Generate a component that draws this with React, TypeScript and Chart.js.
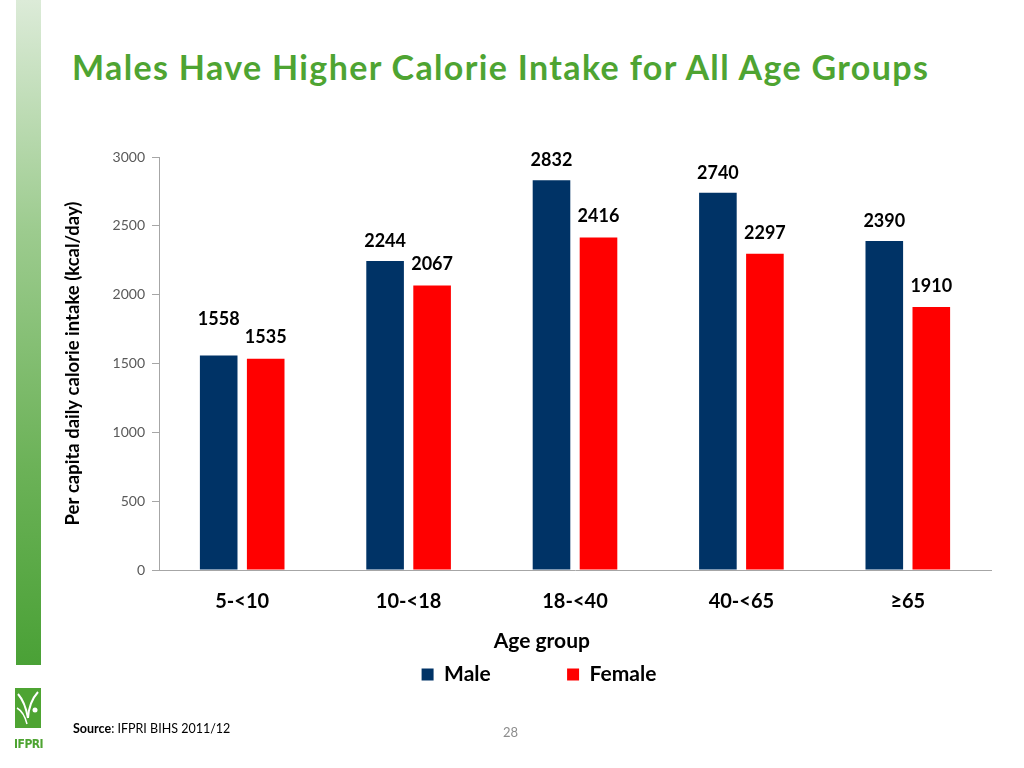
import React, { useEffect, useRef } from "react";
import { Chart, registerables } from "chart.js";

Chart.register(...registerables);

const categories = ["5-<10", "10-<18", "18-<40", "40-<65", "≥65"];
const maleValues = [1558, 2244, 2832, 2740, 2390];
const femaleValues = [1535, 2067, 2416, 2297, 1910];
const yTicks = [0, 500, 1000, 1500, 2000, 2500, 3000];

const FONT = "Lato, 'Open Sans', sans-serif";
const MALE = "#003366";
const FEMALE = "#ff0000";

// pad a label with trailing non-breaking spaces so it reaches a given drawn width
function padTo(text: string, font: string, width: number) {
  const c = document.createElement("canvas").getContext("2d");
  if (!c) return text;
  c.font = font;
  let t = text;
  while (c.measureText(t + "\u00a0").width <= width) t += "\u00a0";
  return t;
}

const valueLabels = {
  id: "valueLabels",
  afterDatasetsDraw(chart: any) {
    const ctx = chart.ctx;
    const m0 = chart.getDatasetMeta(0);
    const m1 = chart.getDatasetMeta(1);
    ctx.save();
    ctx.font = `bold 18px ${FONT}`;
    ctx.fillStyle = "#000";
    ctx.textAlign = "center";
    ctx.textBaseline = "middle";
    m0.data.forEach((bar: any, i: number) => {
      const fb = m1.data[i];
      let yM = bar.y - 20;
      const yF = fb.y - 21;
      if (Math.abs(yM - yF) < 18) yM = yF - 18;
      ctx.fillText(String(maleValues[i]), bar.x, yM);
      ctx.fillText(String(femaleValues[i]), fb.x, yF);
    });
    ctx.restore();
  },
};

export default function App() {
  const ref = useRef<HTMLCanvasElement | null>(null);

  useEffect(() => {
    if (!ref.current) return;
    const xTitle = padTo("Age group", `bold 21px ${FONT}`, 165);
    const chart = new Chart(ref.current, {
      type: "bar",
      data: {
        labels: categories,
        datasets: [
          { label: "Male", data: maleValues, backgroundColor: MALE, borderWidth: 0 },
          { label: "Female", data: femaleValues, backgroundColor: FEMALE, borderWidth: 0 },
        ],
      },
      options: {
        animation: false,
        responsive: false,
        datasets: { bar: { categoryPercentage: 0.565, barPercentage: 0.8 } },
        layout: { padding: { left: 87, right: 33, top: 157, bottom: 73 } },
        scales: {
          x: {
            grid: { display: false },
            border: { display: true, color: "#a6a6a6", width: 1 },
            ticks: { color: "#000", font: { family: FONT, size: 20, weight: "bold" }, padding: 12 },
            title: {
              display: true,
              text: xTitle,
              color: "#000",
              font: { family: FONT, size: 21, weight: "bold" },
              padding: { top: 10, bottom: 0 },
            },
            afterFit(scale: any) {
              scale.height = 84;
            },
          },
          y: {
            min: 0,
            max: 3000,
            afterBuildTicks(scale: any) {
              scale.ticks = yTicks.map((v) => ({ value: v }));
            },
            grid: { display: true, drawOnChartArea: false, drawTicks: true, tickLength: 7, color: "#a6a6a6" },
            border: { display: true, color: "#a6a6a6", width: 1 },
            ticks: {
              color: "#595959",
              font: { family: FONT, size: 14 },
              padding: 7,
              callback: (v: any) => String(v),
            },
            title: {
              display: true,
              text: "Per capita daily calorie intake (kcal/day)",
              color: "#000",
              font: { family: FONT, size: 18.5, weight: "bold" },
              padding: { top: -25, bottom: 0 },
            },
            afterFit(scale: any) {
              scale.width = 72;
            },
          },
        },
        plugins: {
          legend: {
            position: "bottom",
            labels: {
              color: "#000",
              font: { family: FONT, size: 21, weight: "bold" },
              boxWidth: 12,
              boxHeight: 12,
              padding: 10,
              generateLabels(chart: any) {
                const items = Chart.defaults.plugins.legend.labels.generateLabels(chart);
                items[0].text = padTo(items[0].text, `bold 21px ${FONT}`, 114);
                return items;
              },
            },
          },
          tooltip: { enabled: false },
        },
      },
      plugins: [valueLabels],
    });
    return () => chart.destroy();
  }, []);

  return (
    <div style={{ position: "fixed", left: 0, top: 0, width: 1024, height: 768, background: "#fff", overflow: "hidden" }}>
      <div
        style={{
          position: "absolute",
          left: 16,
          top: 0,
          width: 25,
          height: 665,
          background: "linear-gradient(to bottom, #dcebd8 0%, #9ccb8e 35%, #6cb258 70%, #4aa136 100%)",
        }}
      />
      <div
        style={{
          position: "absolute",
          left: 72,
          top: 45,
          fontFamily: FONT,
          fontWeight: 700,
          fontSize: 34,
          lineHeight: "44px",
          letterSpacing: 1.35,
          color: "#4ea432",
          whiteSpace: "nowrap",
        }}
      >
        Males Have Higher Calorie Intake for All Age Groups
      </div>
      <canvas ref={ref} width={1024} height={768} style={{ position: "absolute", left: 0, top: 0, width: 1024, height: 768 }} />
      <div style={{ position: "absolute", left: 15, top: 688, width: 26, height: 40, background: "#4ea432" }}>
        <svg width="26" height="40" viewBox="0 0 26 40">
          <path d="M3 6 Q10 14 13 30" stroke="#fff" strokeWidth="2" fill="none" />
          <path d="M23 4 Q14 14 13 30" stroke="#fff" strokeWidth="2" fill="none" />
          <path d="M2 20 Q9 24 12 36" stroke="#fff" strokeWidth="1.5" fill="none" />
          <circle cx="20" cy="22" r="2.5" fill="#fff" />
        </svg>
      </div>
      <div
        style={{
          position: "absolute",
          left: 14,
          top: 737,
          fontFamily: "'Liberation Sans Narrow', 'DejaVu Sans Condensed', sans-serif",
          fontWeight: 700,
          fontSize: 12,
          color: "#4ea432",
          letterSpacing: -0.5,
        }}
      >
        IFPRI
      </div>
      <div style={{ position: "absolute", left: 73, top: 721, fontFamily: FONT, fontSize: 12.5, color: "#000" }}>
        <b>Source</b>: IFPRI BIHS 2011/12
      </div>
      <div style={{ position: "absolute", left: 503, top: 724, fontFamily: FONT, fontSize: 13, color: "#8c8c8c" }}>28</div>
    </div>
  );
}
